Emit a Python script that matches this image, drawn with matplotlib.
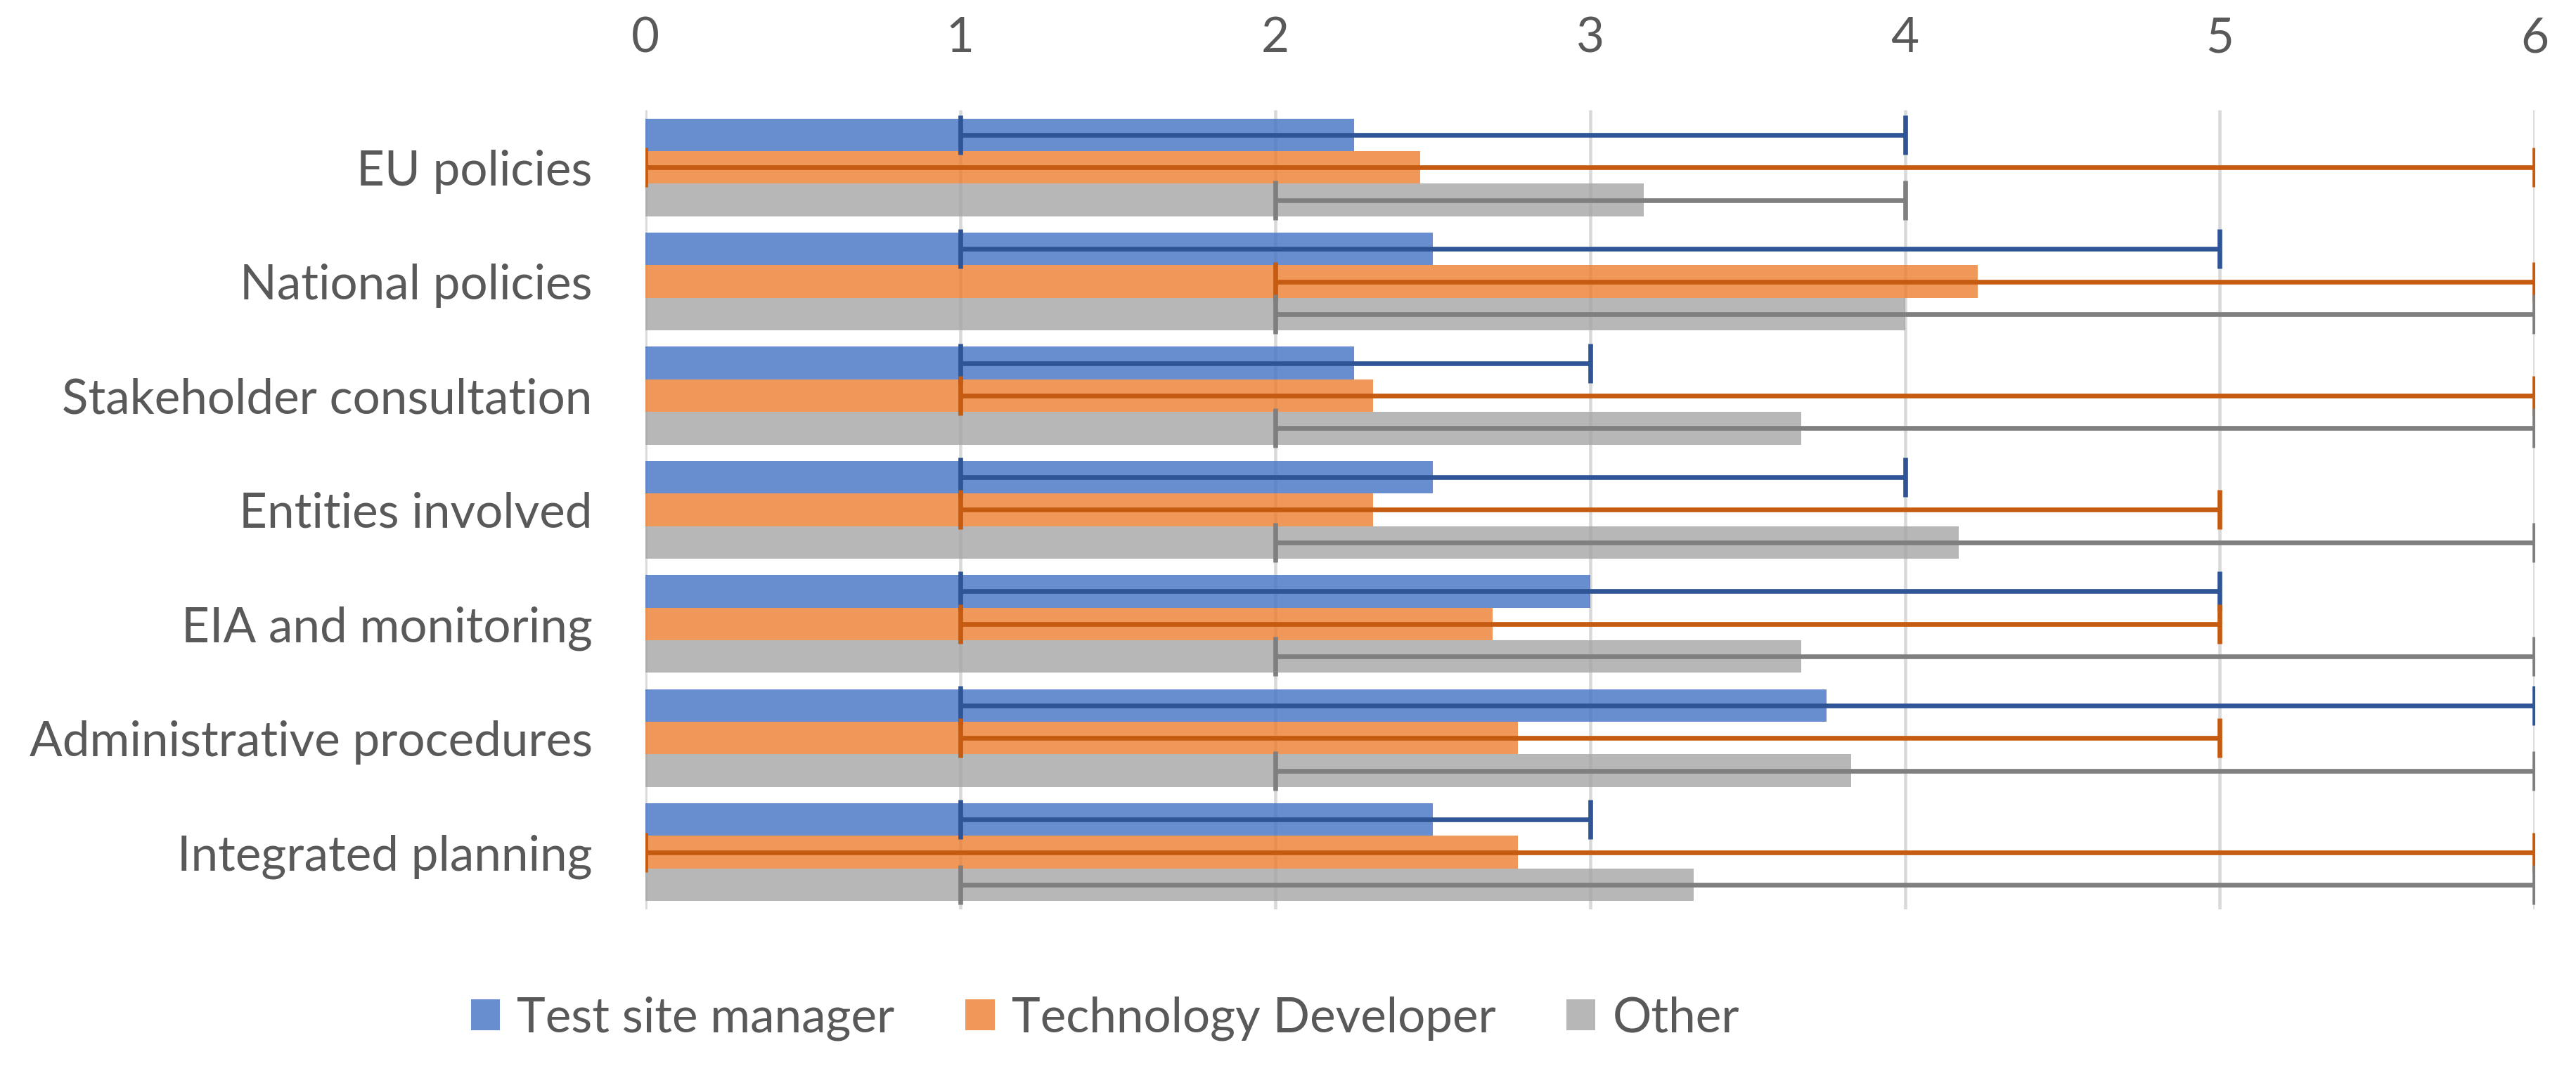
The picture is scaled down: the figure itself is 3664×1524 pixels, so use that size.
import numpy as np
import matplotlib.pyplot as plt

plt.rcParams['font.family'] = ['Lato', 'DejaVu Sans']

# data
categories = ["EU policies", "National policies", "Stakeholder consultation",
              "Entities involved", "EIA and monitoring",
              "Administrative procedures", "Integrated planning"]
series = ["Test site manager", "Technology Developer", "Other"]

manager = [2.25, 2.5, 2.25, 2.5, 3.0, 3.75, 2.5]
manager_lo = [1, 1, 1, 1, 1, 1, 1]
manager_hi = [4, 5, 3, 4, 5, 6, 3]

developer = [2.46, 4.23, 2.31, 2.31, 2.69, 2.77, 2.77]
developer_lo = [0, 2, 1, 1, 1, 1, 0]
developer_hi = [6, 6, 6, 5, 5, 5, 6]

other = [3.17, 4.0, 3.67, 4.17, 3.67, 3.83, 3.33]
other_lo = [2, 2, 2, 2, 2, 2, 1]
other_hi = [4, 6, 6, 6, 6, 6, 6]

xticks = [0, 1, 2, 3, 4, 5, 6]

bar_colors = ["#4472C4", "#ED7D31", "#A5A5A5"]
err_colors = ["#2F5597", "#C55A11", "#7F7F7F"]
txt = "#595959"
fs = 16.6

fig = plt.figure(figsize=(3664 / 300, 1524 / 300), dpi=300)
ax = fig.add_axes([0.2505, 0.151, 0.7335, 0.746])

y = np.arange(len(categories))
h = 0.2857
vals = [manager, developer, other]
los = [manager_lo, developer_lo, other_lo]
his = [manager_hi, developer_hi, other_hi]

for i in range(3):
    pos = y + (i - 1) * h
    v = np.array(vals[i])
    ax.barh(pos, v, height=h, color=bar_colors[i], alpha=0.8, zorder=2,
            label=series[i], linewidth=0)
    xerr = [v - np.array(los[i]), np.array(his[i]) - v]
    ax.errorbar(v, pos, xerr=xerr, fmt='none', ecolor=err_colors[i],
                elinewidth=1.6, capsize=6.8, capthick=1.6, zorder=3)

ax.set_xlim(0, 6)
ax.set_ylim(len(categories) - 0.5, -0.5)
ax.set_xticks(xticks)
ax.set_yticks(y)
ax.set_yticklabels(categories)
ax.xaxis.tick_top()
ax.tick_params(axis='x', length=0, pad=17, labelsize=fs, labelcolor=txt)
ax.tick_params(axis='y', length=0, pad=18, labelsize=fs, labelcolor=txt)
ax.xaxis.grid(True, color="#D9D9D9", linewidth=1.1, zorder=0)
ax.set_axisbelow(True)
for s in ax.spines.values():
    s.set_visible(False)

fig.legend(loc='center', bbox_to_anchor=(0.429, 0.049), ncol=3, frameon=False,
           fontsize=fs, labelcolor=txt, handlelength=0.6, handleheight=0.6,
           handletextpad=0.35, columnspacing=1.45)

fig.savefig("out.png", dpi=300)
